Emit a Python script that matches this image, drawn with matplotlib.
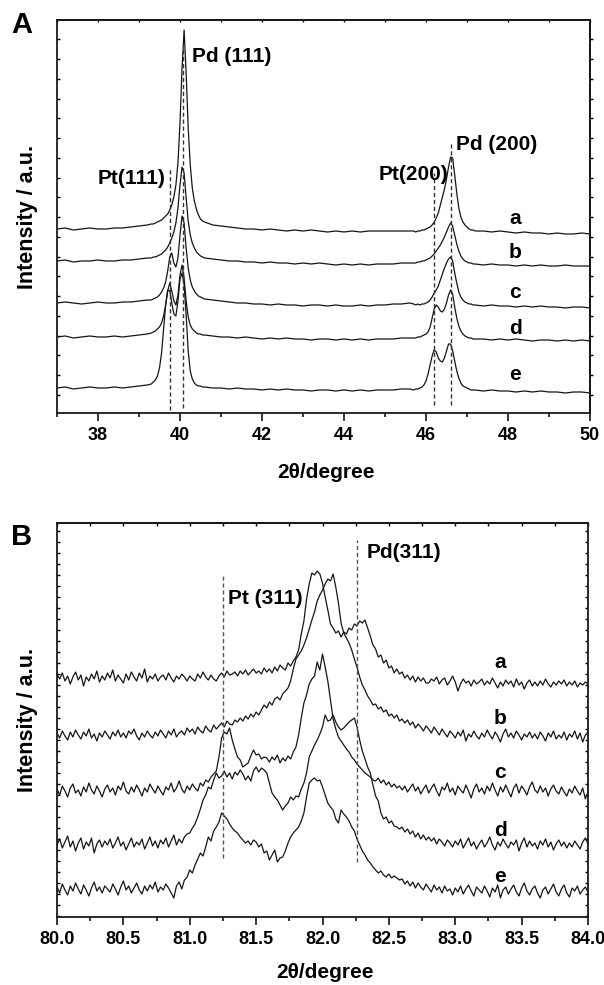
import numpy as np
import matplotlib
matplotlib.use("Agg")
import matplotlib.pyplot as plt
from matplotlib.ticker import FormatStrFormatter

plt.rcParams['font.family'] = ['Liberation Sans', 'DejaVu Sans']
plt.rcParams['font.weight'] = 'bold'

# ---------------- Panel A data (2theta 37-50, intensity in arbitrary units) ----------------
TWO_THETA_A = np.round(np.concatenate([
    np.arange(37.0, 39.21, 0.2),
    np.arange(39.3, 40.601, 0.05),
    np.arange(40.8, 45.61, 0.2),
    np.arange(45.7, 47.201, 0.05),
    np.arange(47.4, 50.01, 0.2),
]), 2)

INT_A_a = [184, 185, 183, 184, 185, 184, 184, 185, 185, 186, 187, 188,
           189, 189, 190, 191, 192, 193, 195, 197, 199, 203, 208, 216, 228, 250, 290, 345, 383, 340,
           285, 248, 225, 212, 204, 198, 194, 192, 191,
           188, 187, 186, 185, 184, 184, 183, 184, 183, 182, 183, 182, 183, 182, 181, 182, 181, 182,
           181, 182, 182, 182, 182, 182, 182,
           182, 181, 182, 182, 183, 183, 184, 185, 186, 188, 191, 195, 200, 208, 216, 224, 234, 246,
           256, 255, 238, 220, 205, 196, 191, 188, 186, 184, 183, 183, 182,
           182, 181, 182, 181, 180, 181, 180, 180, 179, 180, 179, 179, 180, 179]
INT_A_b = [152, 153, 151, 152, 152, 153, 152, 152, 153, 153, 154, 155,
           155, 156, 156, 157, 158, 159, 161, 163, 166, 170, 175, 181, 190, 205, 228, 246, 240, 215,
           192, 178, 170, 165, 161, 159, 157, 156, 155,
           154, 153, 152, 152, 151, 151, 150, 151, 150, 150, 149, 150, 149, 150, 149, 148, 149, 148,
           149, 148, 149, 149, 149, 150, 150,
           150, 150, 151, 151, 152, 152, 153, 154, 155, 157, 159, 162, 165, 168, 172, 176, 181, 186,
           190, 187, 178, 169, 162, 157, 154, 152, 151, 150, 150, 149, 149,
           148, 149, 148, 148, 147, 148, 147, 148, 147, 147, 148, 147, 147, 147]
INT_A_c = [110, 111, 110, 109, 110, 111, 110, 110, 111, 111, 112, 113,
           113, 114, 115, 116, 118, 121, 125, 131, 142, 156, 160, 150, 146, 155, 178, 197, 190, 165,
           145, 133, 126, 122, 119, 117, 116, 115, 114,
           113, 112, 111, 110, 110, 109, 109, 108, 109, 108, 108, 107, 108, 108, 107, 108, 107, 107,
           108, 107, 108, 108, 109, 109, 110,
           109, 108, 109, 108, 109, 109, 110, 111, 113, 116, 120, 123, 127, 133, 139, 145, 150, 154,
           156, 152, 140, 130, 121, 116, 113, 111, 110, 109, 109, 108, 108,
           107, 108, 107, 107, 106, 107, 106, 107, 106, 106, 105, 106, 106, 105]
INT_A_d = [76, 77, 75, 76, 77, 76, 76, 77, 76, 77, 78, 79,
           80, 81, 82, 84, 86, 90, 97, 108, 122, 130, 122, 112, 108, 118, 138, 148, 135, 112,
           96, 88, 84, 82, 80, 79, 79, 78, 78,
           77, 76, 76, 75, 76, 75, 74, 75, 74, 75, 74, 74, 73, 74, 74, 73, 74, 73,
           74, 73, 74, 74, 74, 75, 75,
           75, 75, 76, 76, 77, 78, 79, 81, 86, 95, 104, 108, 106, 102, 101, 104, 110, 118,
           123, 119, 106, 95, 87, 82, 79, 77, 76, 75, 75, 74, 74,
           74, 73, 74, 73, 74, 73, 72, 73, 73, 72, 73, 72, 73, 72]
INT_A_e = [25, 26, 24, 25, 26, 25, 25, 26, 25, 26, 27, 28,
           29, 31, 33, 37, 45, 60, 84, 108, 123, 122, 110, 99, 97, 112, 134, 140, 128, 98,
           62, 42, 34, 30, 28, 27, 27, 26, 26,
           25, 25, 24, 25, 24, 24, 23, 24, 23, 24, 23, 23, 22, 23, 23, 22, 23, 22,
           23, 22, 23, 23, 23, 24, 24,
           23, 24, 24, 25, 26, 28, 32, 39, 48, 57, 63, 61, 55, 52, 51, 55, 62, 69,
           69, 62, 52, 42, 35, 30, 27, 26, 25, 24, 23, 23, 23,
           22, 23, 22, 22, 21, 22, 21, 22, 21, 21, 20, 21, 21, 20]
CURVES_A = [INT_A_a, INT_A_b, INT_A_c, INT_A_d, INT_A_e]
CURVE_NAMES = ['a', 'b', 'c', 'd', 'e']

REF_A_X = [39.76, 40.07, 46.20, 46.61]
REF_A_TOP = [245, 365, 240, 270]
REF_A_BOTTOM = [3, 5, 8, 8]
LABEL_A_Y = [195, 160, 120, 85, 38]

# ---------------- Panel B data (2theta 80-84, step 0.02) ----------------
TWO_THETA_B = np.round(np.linspace(80.0, 84.0, 201), 2)

INT_B_a = [243, 238, 244, 236, 241, 233, 240, 245, 237, 242,
           231, 240, 236, 243, 238, 246, 235, 241, 237, 244,
           239, 247, 236, 242, 238, 234, 243, 237, 245, 240,
           236, 244, 239, 248, 235, 241, 238, 243, 236, 240,
           242, 237, 244, 239, 235, 241, 238, 243, 240, 236,
           241, 238, 236, 243, 239, 245, 240, 237, 242, 238,
           236, 241, 244, 240, 246, 242, 243, 245, 241, 246,
           243, 247, 242, 245, 248, 244, 246, 243, 249, 245,
           248, 244, 250, 246, 252, 249, 247, 254, 251, 256,
           260, 267, 283, 296, 318, 333, 344, 342, 346, 343,
           334, 320, 307, 293, 289, 284, 286, 280, 285, 283,
           289, 287, 293, 291, 296, 294, 297, 289, 281, 272,
           268, 260, 262, 254, 257, 249, 251, 244, 248, 243,
           245, 239, 242, 237, 241, 235, 240, 236, 239, 234,
           234, 238, 236, 240, 233, 237, 239, 232, 236, 241,
           235, 226, 233, 238, 234, 236, 231, 237, 233, 235,
           238, 232, 236, 233, 239, 234, 229, 235, 231, 237,
           233, 236, 230, 238, 232, 235, 228, 234, 237, 231,
           235, 231, 236, 232, 238, 233, 230, 235, 232, 236,
           233, 237, 231, 235, 232, 236, 230, 234, 232, 235,
           233]
INT_B_b = [184, 179, 186, 181, 177, 185, 180, 187, 182, 178,
           185, 181, 188, 179, 183, 176, 184, 180, 186, 182,
           178, 185, 181, 187, 180, 184, 179, 186, 183, 188,
           181, 177, 184, 180, 186, 182, 179, 185, 181, 187,
           183, 179, 186, 182, 188, 180, 184, 186, 182, 189,
           185, 188, 183, 190, 186, 184, 191, 187, 185, 192,
           188, 191, 194, 190, 196, 193, 192, 197, 195, 199,
           196, 201, 198, 203, 200, 205, 202, 207, 212, 209,
           215, 212, 218, 220, 217, 223, 226, 229, 236, 248,
           258, 262, 266, 272, 279, 288, 297, 305, 316, 322,
           327, 333, 338, 336, 343, 330, 314, 294, 284, 279,
           274, 267, 258, 250, 240, 232, 227, 221, 217, 212,
           213, 208, 210, 205, 207, 201, 203, 199, 202, 196,
           198, 194, 197, 192, 195, 189, 193, 190, 186, 191,
           188, 184, 190, 186, 182, 188, 184, 180, 186, 183,
           179, 185, 181, 187, 176, 183, 180, 186, 181, 178,
           184, 180, 187, 182, 178, 185, 181, 175, 183, 188,
           180, 184, 179, 186, 182, 177, 183, 180, 185, 179,
           183, 178, 185, 181, 176, 184, 180, 186, 178, 182,
           179, 185, 177, 183, 180, 186, 178, 184, 175, 182,
           185]
INT_B_c = [128, 122, 131, 126, 120, 129, 133, 124, 127, 121,
           130, 125, 134, 127, 123, 131, 126, 120, 128, 132,
           125, 129, 122, 131, 127, 135, 126, 123, 130, 125,
           132, 127, 121, 129, 125, 133, 128, 124, 131, 126,
           122, 130, 127, 134, 125, 129, 136, 128, 124, 131,
           127, 133, 129, 126, 134, 131, 137, 135, 140, 143,
           146, 160, 179, 185, 183, 189, 177, 168, 160, 157,
           150, 152, 154, 161, 167, 162, 163, 158, 160, 159,
           155, 160, 157, 162, 154, 159, 156, 161, 158, 165,
           170, 182, 199, 214, 222, 233, 238, 241, 255, 247,
           263, 250, 236, 217, 198, 188, 180, 176, 172, 168,
           165, 160, 157, 153, 150, 147, 144, 142, 140, 137,
           136, 139, 134, 137, 132, 135, 130, 133, 129, 131,
           127, 131, 125, 129, 133, 126, 130, 123, 128, 132,
           124, 129, 133, 126, 121, 130, 127, 134, 125, 129,
           122, 131, 127, 124, 132, 126, 119, 128, 133, 125,
           129, 123, 131, 126, 134, 127, 121, 130, 125, 132,
           126, 120, 129, 133, 124, 131, 127, 122, 130, 135,
           127, 124, 131, 125, 129, 121, 128, 132, 126, 123,
           130, 125, 121, 128, 124, 131, 126, 122, 129, 118,
           125]
INT_B_d = [72, 78, 69, 75, 81, 70, 76, 66, 74, 79,
           68, 75, 71, 79, 64, 73, 77, 70, 76, 72,
           78, 69, 74, 80, 71, 75, 67, 73, 79, 70,
           75, 72, 78, 68, 74, 80, 71, 76, 69, 77,
           73, 79, 70, 76, 82, 72, 78, 74, 80, 83,
           84, 89, 93, 100, 108, 117, 122, 130, 128, 137,
           144, 139, 141, 146, 140, 144, 138, 145, 142, 147,
           143, 137, 141, 136, 146, 150, 145, 149, 147, 144,
           134, 124, 120, 117, 112, 107, 111, 114, 120, 117,
           121, 120, 128, 134, 144, 160, 166, 172, 177, 183,
           190, 202, 196, 197, 202, 195, 190, 187, 189, 192,
           195, 197, 199, 190, 177, 166, 158, 150, 144, 132,
           121, 116, 104, 98, 100, 94, 96, 91, 90, 88,
           90, 85, 88, 83, 86, 80, 84, 78, 82, 77,
           80, 76, 79, 73, 78, 75, 71, 77, 74, 70,
           76, 72, 78, 69, 74, 79, 71, 75, 68, 73,
           77, 70, 74, 80, 72, 67, 75, 71, 78, 73,
           69, 75, 72, 77, 66, 74, 79, 70, 76, 71,
           74, 68, 76, 72, 78, 70, 75, 67, 73, 77,
           71, 75, 69, 74, 70, 76, 72, 68, 75, 79,
           73]
INT_B_e = [30, 24, 33, 27, 22, 31, 26, 34, 28, 23,
           32, 27, 21, 29, 35, 26, 30, 24, 31, 28,
           25, 33, 28, 22, 30, 36, 27, 31, 24, 29,
           34, 27, 23, 31, 26, 32, 28, 35, 25, 30,
           27, 33, 29, 24, 19, 31, 35, 28, 37, 40,
           47, 44, 52, 58, 64, 61, 70, 80, 76, 86,
           90, 95, 104, 101, 98, 93, 89, 86, 84, 80,
           77, 74, 76, 72, 77, 75, 70, 73, 64, 66,
           57, 62, 67, 55, 59, 60, 66, 74, 80, 84,
           87, 90, 96, 104, 120, 134, 137, 139, 136, 137,
           130, 122, 114, 110, 107, 98, 94, 107, 103, 100,
           96, 90, 86, 78, 72, 66, 62, 57, 54, 50,
           47, 44, 46, 42, 40, 43, 39, 41, 39, 37,
           38, 33, 36, 31, 35, 29, 34, 30, 27, 33,
           29, 25, 32, 27, 30, 24, 31, 26, 28, 22,
           29, 25, 31, 23, 28, 32, 26, 21, 30, 27,
           24, 31, 26, 20, 29, 25, 32, 19, 27, 30,
           23, 28, 32, 25, 21, 29, 34, 26, 22, 28,
           31, 24, 19, 27, 30, 23, 28, 33, 25, 21,
           28, 32, 24, 20, 29, 26, 31, 23, 27, 30,
           25]
CURVES_B = [INT_B_a, INT_B_b, INT_B_c, INT_B_d, INT_B_e]

REF_B_X = [81.25, 82.26]
REF_B_TOP = [342, 377]
REF_B_BOTTOM = [59, 55]
LABEL_B_Y = [254, 199, 144, 87, 40]

# ---------------- figure ----------------
W, H = 604, 985
fig = plt.figure(figsize=(W / 100, H / 100), dpi=100)
fig.patch.set_facecolor('white')

axA = fig.add_axes([57 / W, 1 - 413 / H, 533 / W, 393 / H])
axB = fig.add_axes([57 / W, 1 - 917 / H, 531 / W, 394 / H])

LINE_KW = dict(color='#151515', lw=0.9)
FS_TICK = 13
FS_LABEL = 15


def style_spines(ax):
    for sp in ax.spines.values():
        sp.set_linewidth(1.3)
        sp.set_color('#1a1a1a')


# ---- Panel A ----
for y in CURVES_A:
    axA.plot(TWO_THETA_A, y, **LINE_KW)
axA.vlines(REF_A_X, REF_A_BOTTOM, REF_A_TOP, colors='#333333', lw=1.0,
           linestyles=(0, (3, 2)))
axA.set_xlim(37, 50)
axA.set_ylim(0, 393)
axA.set_xticks(np.arange(38, 51, 2))
axA.set_xticks(np.arange(37, 51, 1), minor=True)
axA.tick_params(axis='x', which='major', direction='out', length=6, width=1.1,
                labelsize=FS_TICK, pad=4)
axA.tick_params(axis='x', which='minor', direction='out', length=3, width=1.1)
axA.set_yticks(np.arange(18.2, 393, 19.75))
axA.tick_params(axis='y', direction='in', length=2.5, width=1, labelleft=False)
style_spines(axA)
secA_t = axA.secondary_xaxis('top')
secA_t.set_xticks(np.arange(37, 51, 1))
secA_t.tick_params(direction='in', length=1.5, width=1, labeltop=False)
secA_r = axA.secondary_yaxis('right')
secA_r.set_yticks(np.arange(18.2, 393, 19.75))
secA_r.tick_params(direction='out', length=2, width=1, labelright=False)
for s in (secA_t, secA_r):
    for sp in s.spines.values():
        sp.set_linewidth(1.3)

axA.text(40.30, 357, 'Pd (111)', fontsize=FS_LABEL, fontweight='bold', ha='left', va='center')
axA.text(39.64, 235, 'Pt(111)', fontsize=FS_LABEL, fontweight='bold', ha='right', va='center')
axA.text(46.54, 238, 'Pt(200)', fontsize=FS_LABEL, fontweight='bold', ha='right', va='center')
axA.text(46.73, 268, 'Pd (200)', fontsize=FS_LABEL, fontweight='bold', ha='left', va='center')
for name, yl in zip(CURVE_NAMES, LABEL_A_Y):
    axA.text(48.18, yl, name, fontsize=FS_LABEL, fontweight='bold', ha='center', va='center')

# ---- Panel B ----
for y in CURVES_B:
    axB.plot(TWO_THETA_B, y, **LINE_KW)
axB.vlines(REF_B_X, REF_B_BOTTOM, REF_B_TOP, colors='#555555', lw=1.0,
           linestyles=(0, (3, 2)))
axB.set_xlim(80, 84)
axB.set_ylim(0, 394)
axB.set_xticks(np.arange(80, 84.01, 0.5))
axB.set_xticks(np.arange(80, 84.01, 0.25), minor=True)
axB.xaxis.set_major_formatter(FormatStrFormatter('%.1f'))
axB.tick_params(axis='x', which='major', direction='out', length=6, width=1.1,
                labelsize=FS_TICK, pad=4)
axB.tick_params(axis='x', which='minor', direction='out', length=3, width=1.1)
axB.set_yticks(np.arange(1.3, 394, 11))
axB.tick_params(axis='y', direction='in', length=2.5, width=1, labelleft=False,
                right=True, labelright=False)
style_spines(axB)
secB_t = axB.secondary_xaxis('top')
secB_t.set_xticks(np.arange(80, 84.01, 0.25))
secB_t.tick_params(direction='in', length=2.5, width=1, labeltop=False)
for sp in secB_t.spines.values():
    sp.set_linewidth(1.3)

axB.text(81.285, 319, 'Pt (311)', fontsize=FS_LABEL, fontweight='bold', ha='left', va='center')
axB.text(82.33, 364, 'Pd(311)', fontsize=FS_LABEL, fontweight='bold', ha='left', va='center')
for name, yl in zip(CURVE_NAMES, LABEL_B_Y):
    axB.text(83.34, yl, name, fontsize=FS_LABEL, fontweight='bold', ha='center', va='center')

# ---- figure-level labels ----
fig.text(22 / W, 1 - 25 / H, 'A', fontsize=21, fontweight='bold', ha='center', va='center')
fig.text(22 / W, 1 - 537 / H, 'B', fontsize=21, fontweight='bold', ha='center', va='center')
fig.text(27 / W, 1 - 217 / H, 'Intensity / a.u.', fontsize=15.5, fontweight='bold',
         rotation=90, ha='center', va='center')
fig.text(27 / W, 1 - 720 / H, 'Intensity / a.u.', fontsize=15.5, fontweight='bold',
         rotation=90, ha='center', va='center')
fig.text(326 / W, 1 - 473 / H, '2θ/degree', fontsize=FS_LABEL, fontweight='bold',
         ha='center', va='center')
fig.text(325 / W, 1 - 973 / H, '2θ/degree', fontsize=FS_LABEL, fontweight='bold',
         ha='center', va='center')

fig.savefig('out.png', dpi=100, facecolor='white')
